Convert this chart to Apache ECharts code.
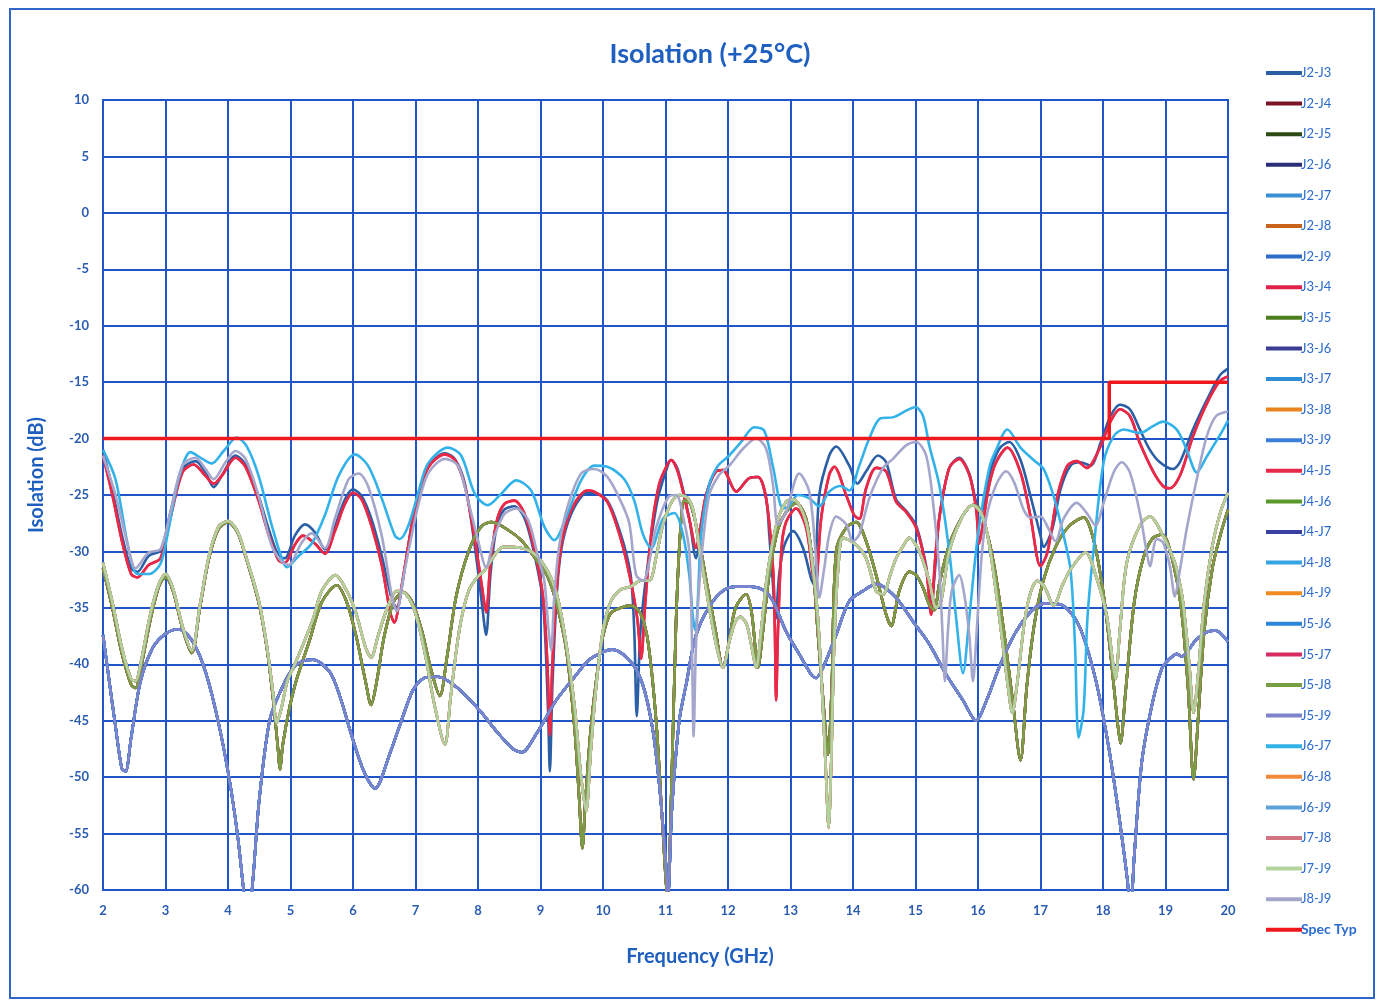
<!DOCTYPE html>
<html>
<head>
<meta charset="utf-8">
<script src="https://cdn.jsdelivr.net/npm/echarts@6/dist/echarts.min.js"></script>
<style>
html,body{margin:0;padding:0;background:#fff;}
#c{width:1382px;height:1002px;}
</style>
</head>
<body>
<div id="c"></div>
<script>
// ---- data (frequency GHz, isolation dB) ----
const xTicks = [2,3,4,5,6,7,8,9,10,11,12,13,14,15,16,17,18,19,20];
const yTicks = [10,5,0,-5,-10,-15,-20,-25,-30,-35,-40,-45,-50,-55,-60];

const upperBlue = [[2.0,-21.0],[2.15,-24.5],[2.3,-28.5],[2.45,-31.5],[2.55,-31.8],[2.73,-30.4],[2.92,-29.9],[3.08,-26.5],[3.27,-22.7],[3.48,-22.0],[3.64,-23.0],[3.77,-24.3],[3.9,-23.3],[4.12,-21.5],[4.28,-22.3],[4.49,-25.1],[4.65,-28.0],[4.81,-30.4],[4.91,-30.6],[5.07,-28.6],[5.23,-27.6],[5.39,-28.3],[5.55,-29.8],[5.71,-27.8],[5.87,-25.4],[6.0,-24.5],[6.14,-25.1],[6.3,-27.2],[6.46,-30.4],[6.62,-34.2],[6.7,-35.0],[6.83,-31.4],[6.99,-26.1],[7.2,-22.5],[7.47,-21.3],[7.63,-21.8],[7.79,-24.0],[7.95,-29.6],[8.06,-34.5],[8.13,-37.4],[8.2,-32.0],[8.3,-27.8],[8.42,-26.3],[8.58,-26.0],[8.74,-27.0],[8.9,-30.2],[9.04,-34.5],[9.12,-44.0],[9.15,-49.5],[9.19,-42.0],[9.27,-33.0],[9.36,-29.0],[9.54,-26.1],[9.75,-24.8],[9.86,-24.8],[10.07,-25.5],[10.28,-28.4],[10.44,-32.0],[10.5,-37.0],[10.54,-44.6],[10.6,-37.0],[10.71,-31.4],[10.87,-25.5],[11.03,-22.5],[11.09,-21.9],[11.2,-22.8],[11.38,-27.1],[11.49,-30.6],[11.56,-28.5],[11.65,-25.0],[11.81,-22.9],[11.92,-22.8],[12.13,-24.7],[12.34,-23.5],[12.48,-23.4],[12.61,-25.3],[12.66,-28.5],[12.72,-33.0],[12.76,-36.0],[12.82,-32.0],[12.9,-29.5],[13.04,-28.2],[13.2,-29.7],[13.33,-32.4],[13.38,-33.0],[13.46,-25.0],[13.62,-21.5],[13.73,-20.7],[13.94,-22.4],[14.07,-24.0],[14.21,-22.9],[14.4,-21.5],[14.53,-22.1],[14.69,-25.4],[14.85,-26.4],[15.01,-27.7],[15.17,-31.3],[15.25,-34.5],[15.33,-30.5],[15.38,-27.0],[15.54,-22.6],[15.7,-21.7],[15.86,-23.1],[15.97,-25.6],[16.05,-26.5],[16.18,-23.2],[16.34,-20.9],[16.5,-20.3],[16.68,-21.9],[16.84,-25.1],[17.0,-28.6],[17.05,-29.6],[17.19,-28.0],[17.32,-24.5],[17.48,-22.4],[17.64,-22.1],[17.8,-22.4],[17.96,-20.4],[18.12,-18.0],[18.27,-17.0],[18.43,-17.4],[18.59,-19.2],[18.75,-21.0],[18.91,-22.1],[19.12,-22.7],[19.23,-22.1],[19.44,-19.2],[19.66,-16.6],[19.87,-14.4],[20.0,-13.8]];

const upperRed = [[2.0,-21.5],[2.15,-25.0],[2.3,-29.0],[2.45,-32.0],[2.55,-32.3],[2.73,-31.2],[2.92,-30.6],[3.08,-27.0],[3.27,-23.0],[3.45,-22.3],[3.64,-23.3],[3.77,-24.0],[3.9,-23.3],[4.12,-21.7],[4.28,-22.5],[4.49,-25.5],[4.65,-28.5],[4.81,-30.8],[4.91,-31.0],[5.07,-29.4],[5.2,-28.6],[5.39,-29.3],[5.55,-30.2],[5.71,-28.2],[5.87,-25.8],[6.0,-24.8],[6.14,-25.4],[6.3,-27.8],[6.46,-31.2],[6.6,-35.5],[6.66,-36.3],[6.78,-33.0],[6.9,-29.0],[6.99,-26.3],[7.2,-22.6],[7.47,-21.4],[7.63,-21.9],[7.79,-24.2],[7.95,-29.0],[8.06,-33.0],[8.13,-35.4],[8.2,-31.0],[8.3,-27.3],[8.42,-25.8],[8.58,-25.5],[8.74,-26.6],[8.9,-29.8],[9.04,-34.0],[9.11,-40.0],[9.15,-46.3],[9.19,-40.0],[9.27,-32.5],[9.36,-28.6],[9.54,-25.8],[9.75,-24.6],[9.86,-24.7],[10.07,-25.6],[10.28,-28.8],[10.44,-32.5],[10.55,-36.0],[10.61,-39.5],[10.67,-35.0],[10.78,-28.0],[10.9,-24.0],[11.03,-22.3],[11.09,-21.9],[11.2,-23.0],[11.38,-27.1],[11.49,-29.7],[11.56,-27.8],[11.65,-25.0],[11.81,-22.9],[11.92,-22.8],[12.13,-24.7],[12.34,-23.5],[12.48,-23.4],[12.61,-25.3],[12.72,-31.5],[12.75,-37.0],[12.77,-43.2],[12.8,-37.0],[12.86,-29.5],[12.93,-27.4],[13.09,-26.2],[13.25,-27.9],[13.36,-32.1],[13.4,-33.0],[13.49,-27.1],[13.62,-23.2],[13.7,-22.5],[13.89,-25.0],[14.02,-26.8],[14.1,-27.1],[14.21,-24.4],[14.37,-22.6],[14.53,-22.9],[14.69,-25.6],[14.85,-26.5],[15.01,-27.9],[15.17,-31.5],[15.25,-35.6],[15.31,-31.0],[15.38,-27.1],[15.54,-22.6],[15.7,-21.8],[15.86,-23.2],[15.97,-26.2],[16.02,-29.3],[16.08,-27.5],[16.18,-24.1],[16.29,-22.1],[16.47,-20.8],[16.68,-23.0],[16.84,-26.9],[17.0,-31.3],[17.11,-30.1],[17.27,-25.1],[17.43,-22.4],[17.58,-22.0],[17.74,-22.6],[17.96,-20.7],[18.12,-18.5],[18.27,-17.4],[18.43,-18.0],[18.59,-20.4],[18.81,-23.0],[18.96,-24.2],[19.07,-24.4],[19.23,-23.3],[19.44,-19.8],[19.66,-16.9],[19.87,-14.9],[20.0,-14.5]];

const upperCyan = [[2.0,-21.0],[2.2,-23.6],[2.41,-29.8],[2.55,-32.0],[2.73,-32.0],[2.92,-31.1],[3.05,-28.0],[3.21,-23.6],[3.4,-21.2],[3.59,-21.8],[3.74,-22.2],[3.93,-21.1],[4.14,-19.9],[4.3,-20.7],[4.49,-23.3],[4.7,-27.7],[4.86,-30.6],[4.94,-31.4],[5.13,-30.4],[5.34,-29.3],[5.55,-26.8],[5.77,-23.3],[6.03,-21.4],[6.24,-22.4],[6.46,-25.3],[6.67,-28.6],[6.75,-28.9],[6.88,-27.8],[7.04,-24.9],[7.2,-22.2],[7.52,-20.8],[7.73,-21.5],[7.95,-24.9],[8.16,-25.9],[8.37,-24.9],[8.61,-23.7],[8.85,-24.6],[9.06,-27.8],[9.22,-29.0],[9.43,-26.7],[9.65,-23.7],[9.86,-22.4],[10.07,-22.5],[10.34,-23.6],[10.5,-25.5],[10.64,-28.5],[10.77,-29.7],[10.96,-27.1],[11.14,-26.6],[11.28,-28.5],[11.38,-32.1],[11.44,-35.9],[11.48,-37.0],[11.52,-34.0],[11.57,-28.5],[11.7,-24.1],[11.84,-22.4],[12.02,-21.5],[12.21,-20.3],[12.42,-19.0],[12.58,-19.3],[12.72,-22.5],[12.88,-26.2],[12.97,-26.0],[13.12,-25.0],[13.3,-25.3],[13.46,-26.0],[13.62,-24.7],[13.8,-24.2],[13.94,-24.6],[14.1,-22.4],[14.26,-20.0],[14.44,-18.2],[14.65,-18.1],[14.86,-17.5],[15.0,-17.2],[15.12,-18.0],[15.22,-20.6],[15.38,-24.1],[15.54,-30.0],[15.65,-35.9],[15.76,-40.8],[15.86,-35.9],[16.0,-28.5],[16.18,-22.6],[16.29,-21.0],[16.47,-19.2],[16.68,-20.8],[16.89,-21.9],[17.05,-22.7],[17.21,-25.1],[17.37,-28.6],[17.48,-31.6],[17.55,-38.0],[17.61,-46.5],[17.69,-44.0],[17.75,-36.0],[17.85,-29.8],[18.01,-22.1],[18.17,-19.8],[18.33,-19.2],[18.59,-19.5],[18.8,-18.9],[18.96,-18.5],[19.18,-19.2],[19.34,-21.0],[19.5,-23.0],[19.66,-21.6],[19.87,-19.7],[20.0,-18.4]];

const upperLavender = [[2.0,-21.5],[2.2,-25.0],[2.4,-29.5],[2.52,-31.5],[2.73,-30.1],[2.92,-29.8],[3.08,-26.5],[3.27,-22.4],[3.48,-21.7],[3.64,-22.7],[3.77,-23.6],[3.96,-22.1],[4.12,-21.1],[4.28,-21.8],[4.49,-25.1],[4.7,-29.5],[4.86,-30.9],[4.97,-31.2],[5.18,-29.2],[5.34,-28.4],[5.55,-29.7],[5.71,-27.1],[5.93,-23.6],[6.09,-23.1],[6.24,-24.2],[6.46,-28.6],[6.62,-33.9],[6.7,-35.3],[6.8,-32.5],[6.88,-30.2],[7.04,-26.0],[7.2,-23.1],[7.47,-21.8],[7.68,-22.4],[7.84,-25.5],[8.0,-29.0],[8.13,-31.4],[8.26,-28.7],[8.42,-26.7],[8.61,-26.2],[8.8,-27.2],[8.95,-30.2],[9.06,-32.6],[9.13,-37.0],[9.17,-38.8],[9.22,-34.0],[9.3,-29.5],[9.43,-26.1],[9.65,-23.1],[9.86,-22.7],[10.07,-23.4],[10.28,-25.5],[10.42,-27.5],[10.53,-32.1],[10.64,-32.6],[10.85,-27.9],[11.06,-25.1],[11.17,-25.0],[11.3,-27.4],[11.38,-30.0],[11.42,-37.0],[11.45,-46.4],[11.49,-38.0],[11.57,-30.9],[11.7,-25.0],[11.86,-23.2],[12.02,-22.4],[12.24,-20.9],[12.45,-20.0],[12.61,-20.9],[12.72,-24.1],[12.8,-27.6],[12.93,-26.5],[13.14,-23.1],[13.3,-24.7],[13.4,-30.0],[13.46,-34.1],[13.54,-31.5],[13.62,-28.5],[13.73,-26.9],[13.89,-27.6],[14.0,-29.1],[14.1,-28.5],[14.26,-25.3],[14.48,-22.6],[14.64,-21.8],[14.85,-20.6],[15.01,-20.3],[15.17,-21.5],[15.28,-25.6],[15.38,-31.5],[15.43,-37.0],[15.47,-41.5],[15.52,-37.0],[15.58,-33.5],[15.7,-32.1],[15.78,-33.8],[15.86,-37.4],[15.92,-41.5],[15.98,-37.0],[16.05,-31.0],[16.13,-27.1],[16.29,-24.1],[16.45,-22.9],[16.58,-23.9],[16.73,-26.3],[16.84,-27.0],[17.0,-26.9],[17.13,-28.0],[17.24,-29.1],[17.37,-27.1],[17.58,-25.7],[17.74,-26.6],[17.88,-27.7],[18.01,-25.7],[18.17,-23.0],[18.3,-22.1],[18.43,-23.0],[18.59,-26.6],[18.7,-30.1],[18.75,-31.3],[18.86,-28.9],[18.96,-29.2],[19.07,-31.3],[19.15,-34.0],[19.22,-32.0],[19.34,-28.0],[19.5,-23.6],[19.66,-19.8],[19.81,-18.0],[20.0,-17.6]];

const middleDark = [[2.0,-31.5],[2.15,-35.0],[2.3,-39.0],[2.45,-41.8],[2.52,-42.1],[2.6,-40.5],[2.76,-36.0],[2.9,-33.0],[3.0,-32.3],[3.12,-33.5],[3.28,-37.0],[3.42,-39.0],[3.55,-35.0],[3.7,-30.5],[3.85,-28.0],[4.0,-27.4],[4.15,-28.3],[4.28,-30.4],[4.49,-34.5],[4.62,-38.5],[4.72,-43.0],[4.8,-47.5],[4.83,-49.3],[4.88,-47.0],[4.99,-43.7],[5.1,-41.3],[5.31,-37.8],[5.5,-34.5],[5.74,-33.0],[5.9,-34.5],[6.05,-37.5],[6.2,-41.5],[6.29,-43.6],[6.38,-41.5],[6.5,-37.5],[6.65,-34.5],[6.8,-33.6],[6.95,-34.5],[7.1,-37.0],[7.25,-40.5],[7.39,-42.8],[7.5,-39.5],[7.65,-34.0],[7.85,-30.0],[8.05,-27.8],[8.22,-27.4],[8.48,-28.1],[8.69,-29.0],[8.9,-30.5],[9.11,-32.2],[9.27,-34.9],[9.42,-39.0],[9.55,-46.0],[9.62,-52.0],[9.67,-56.3],[9.72,-52.0],[9.8,-46.0],[9.89,-41.5],[10.0,-37.5],[10.12,-35.5],[10.28,-35.0],[10.45,-34.8],[10.6,-35.5],[10.72,-38.0],[10.85,-45.0],[10.95,-54.0],[11.03,-60.5],[11.1,-50.0],[11.17,-36.0],[11.24,-28.0],[11.3,-25.5],[11.4,-25.8],[11.52,-28.5],[11.65,-32.5],[11.8,-37.0],[11.92,-40.3],[12.0,-38.5],[12.12,-35.0],[12.29,-33.8],[12.38,-35.5],[12.48,-40.3],[12.56,-37.0],[12.66,-32.0],[12.8,-28.0],[12.93,-26.5],[13.09,-25.7],[13.25,-27.1],[13.36,-31.5],[13.44,-37.4],[13.52,-43.0],[13.6,-48.0],[13.66,-42.0],[13.73,-30.0],[13.89,-27.9],[14.05,-27.4],[14.21,-29.1],[14.37,-32.1],[14.53,-35.6],[14.61,-36.6],[14.74,-33.5],[14.9,-31.8],[15.01,-32.1],[15.12,-33.2],[15.22,-34.7],[15.3,-35.2],[15.38,-32.9],[15.54,-29.4],[15.76,-26.8],[15.92,-25.9],[16.02,-26.2],[16.12,-27.8],[16.25,-31.0],[16.4,-36.5],[16.55,-43.0],[16.68,-48.5],[16.78,-42.0],[16.9,-36.5],[17.05,-32.5],[17.25,-29.5],[17.45,-27.8],[17.69,-27.0],[17.85,-29.0],[18.0,-33.5],[18.12,-39.0],[18.22,-44.5],[18.28,-47.0],[18.36,-42.5],[18.5,-34.5],[18.65,-30.5],[18.8,-28.8],[18.95,-28.5],[19.1,-30.5],[19.25,-35.0],[19.36,-42.0],[19.45,-50.2],[19.52,-45.0],[19.62,-37.0],[19.75,-31.5],[19.88,-28.5],[20.0,-26.3]];

const middlePale = [[2.0,-31.0],[2.15,-34.5],[2.3,-38.5],[2.45,-41.3],[2.52,-41.5],[2.6,-40.0],[2.76,-35.5],[2.9,-32.8],[3.0,-32.0],[3.12,-33.3],[3.28,-36.8],[3.42,-38.8],[3.55,-34.8],[3.7,-30.3],[3.85,-27.8],[4.0,-27.3],[4.15,-28.2],[4.28,-30.3],[4.49,-34.3],[4.62,-38.3],[4.72,-42.5],[4.78,-45.2],[4.85,-44.0],[4.95,-41.5],[5.1,-39.6],[5.36,-36.0],[5.5,-33.5],[5.72,-32.1],[5.9,-33.5],[6.05,-35.5],[6.2,-38.5],[6.29,-39.4],[6.4,-37.5],[6.55,-35.0],[6.7,-33.5],[6.85,-33.8],[7.0,-35.5],[7.15,-39.0],[7.3,-43.5],[7.47,-47.1],[7.56,-43.0],[7.7,-37.0],[7.85,-33.5],[8.0,-32.2],[8.1,-31.7],[8.42,-29.6],[8.69,-29.7],[8.9,-30.2],[9.11,-31.7],[9.27,-34.0],[9.42,-38.5],[9.55,-44.0],[9.65,-50.0],[9.73,-53.0],[9.8,-48.0],[9.89,-42.0],[10.0,-37.0],[10.12,-34.5],[10.28,-33.4],[10.45,-33.1],[10.6,-32.6],[10.74,-32.6],[10.85,-30.5],[10.96,-27.6],[11.1,-25.6],[11.22,-25.0],[11.36,-25.3],[11.45,-26.5],[11.55,-30.0],[11.7,-35.0],[11.82,-38.5],[11.92,-40.3],[12.02,-38.0],[12.12,-36.2],[12.2,-35.8],[12.3,-36.5],[12.38,-38.5],[12.45,-40.3],[12.53,-37.0],[12.63,-32.0],[12.78,-27.5],[12.93,-25.6],[13.05,-25.4],[13.25,-27.4],[13.36,-31.5],[13.44,-36.0],[13.52,-44.0],[13.57,-50.0],[13.61,-54.5],[13.65,-49.0],[13.7,-38.0],[13.77,-31.0],[13.84,-28.8],[14.05,-29.4],[14.21,-30.6],[14.37,-33.5],[14.48,-33.8],[14.6,-32.0],[14.69,-30.6],[14.85,-29.1],[14.9,-28.8],[15.06,-30.0],[15.22,-32.6],[15.33,-35.0],[15.41,-34.4],[15.54,-30.0],[15.76,-26.8],[15.92,-25.9],[16.05,-26.6],[16.15,-28.5],[16.25,-32.0],[16.38,-37.5],[16.48,-42.0],[16.55,-44.3],[16.62,-42.0],[16.75,-36.0],[16.85,-33.5],[16.95,-32.6],[17.07,-33.2],[17.21,-34.8],[17.35,-33.0],[17.48,-31.6],[17.72,-30.1],[17.9,-32.4],[18.06,-35.7],[18.15,-39.5],[18.2,-41.3],[18.27,-37.0],[18.38,-31.0],[18.59,-27.7],[18.75,-26.9],[18.96,-28.6],[19.1,-30.3],[19.18,-31.6],[19.28,-34.5],[19.38,-40.0],[19.45,-44.3],[19.52,-41.0],[19.62,-34.5],[19.75,-29.5],[19.88,-26.5],[20.0,-24.8]];

const lowerGroup = [[2.0,-37.4],[2.1,-41.5],[2.2,-45.5],[2.3,-49.2],[2.36,-49.5],[2.45,-46.5],[2.6,-41.5],[2.8,-38.5],[3.0,-37.3],[3.21,-36.9],[3.4,-37.7],[3.6,-40.0],[3.8,-44.0],[4.0,-49.5],[4.15,-55.0],[4.25,-60.0],[4.32,-63.0],[4.4,-59.0],[4.5,-52.0],[4.67,-44.9],[4.88,-41.9],[5.05,-40.3],[5.2,-39.7],[5.36,-39.6],[5.63,-40.7],[5.8,-43.0],[5.95,-45.8],[6.16,-49.3],[6.35,-51.0],[6.59,-47.9],[6.8,-44.6],[6.96,-42.3],[7.15,-41.2],[7.36,-41.1],[7.65,-42.0],[8.03,-44.1],[8.29,-45.9],[8.56,-47.5],[8.7,-47.8],[8.93,-46.2],[9.25,-43.2],[9.52,-41.3],[9.78,-39.6],[10.05,-38.8],[10.15,-38.7],[10.42,-39.6],[10.63,-41.7],[10.79,-45.6],[10.9,-50.6],[11.0,-57.2],[11.04,-60.5],[11.1,-53.0],[11.22,-45.0],[11.33,-41.8],[11.49,-37.4],[11.76,-34.4],[12.02,-33.2],[12.29,-33.1],[12.56,-33.4],[12.72,-34.4],[12.93,-37.1],[13.14,-39.1],[13.33,-40.9],[13.41,-41.2],[13.52,-40.3],[13.73,-37.4],[13.94,-34.4],[14.16,-33.5],[14.37,-32.9],[14.48,-33.1],[14.69,-34.1],[14.96,-36.2],[15.22,-38.2],[15.49,-40.9],[15.76,-43.2],[15.97,-45.0],[16.13,-43.3],[16.35,-40.1],[16.6,-37.2],[16.85,-35.3],[17.07,-34.6],[17.32,-34.7],[17.61,-36.5],[17.88,-41.3],[18.09,-47.3],[18.25,-53.2],[18.39,-59.1],[18.44,-62.0],[18.5,-57.0],[18.62,-48.7],[18.78,-43.7],[18.94,-40.4],[19.05,-39.6],[19.18,-39.1],[19.26,-39.3],[19.48,-37.9],[19.64,-37.2],[19.8,-37.0],[20.0,-38.0]];

const specTyp = [[2.0,-20],[18.1,-20],[18.1,-15],[20.0,-15]];

// legend names, the data curve each one follows, and colours
const seriesNames = ['J2-J3','J2-J4','J2-J5','J2-J6','J2-J7','J2-J8','J2-J9','J3-J4','J3-J5','J3-J6','J3-J7','J3-J8','J3-J9','J4-J5','J4-J6','J4-J7','J4-J8','J4-J9','J5-J6','J5-J7','J5-J8','J5-J9','J6-J7','J6-J8','J6-J9','J7-J8','J7-J9','J8-J9'];
const seriesData = [upperBlue, middleDark, middleDark, lowerGroup, lowerGroup, middlePale, lowerGroup, upperRed, middleDark, lowerGroup, lowerGroup, middlePale, lowerGroup, upperRed, middleDark, lowerGroup, lowerGroup, middlePale, lowerGroup, middleDark, middleDark, lowerGroup, upperCyan, middlePale, middlePale, middlePale, middlePale, upperLavender];
const seriesColors = ['#2a5fa5','#7b1326','#2c4a14','#2b2e78','#3c8fd4','#c8631c','#2f6cc8','#e0224a','#4e7f1e','#3b3c94','#2e8fd6','#e8831e','#3a7fd8','#e82a48','#5b9a2a','#3a3fa2','#35a4e2','#f08a22','#2c88d6','#d62c62','#7a9e45','#7f83cc','#33b2ea','#f28c3c','#5ea2d8','#d27482','#b3d39c','#a5a6cc'];

const blue = '#1f55c8';
const txt = '#2a5cb0';
const nameBlue = '#1f5fbf';

const series = seriesNames.map((n, i) => ({
  name: n, type: 'line', data: seriesData[i], smooth: 0.3, showSymbol: false,
  lineStyle: {width: 2.6, color: seriesColors[i]}, itemStyle: {color: seriesColors[i]},
  clip: true
}));
series.push({
  name: 'Spec Typ', type: 'line', data: specTyp, smooth: false, showSymbol: false,
  lineStyle: {width: 3.5, color: '#f0181c'}, itemStyle: {color: '#f0181c'}, z: 5
});

const chart = echarts.init(document.getElementById('c'));
chart.setOption({
  animation: false,
  backgroundColor: '#fff',
  title: {
    text: 'Isolation (+25°C)', left: 705, top: 36, textAlign: 'center',
    textStyle: {fontFamily: 'Lato', fontWeight: 'bold', fontSize: 27, color: nameBlue}
  },
  legend: {
    orient: 'vertical', left: 1261, top: 61, icon: 'rect', itemWidth: 36, itemHeight: 4,
    itemGap: 16.6,
    data: seriesNames.concat(['Spec Typ']),
    formatter: n => n === 'Spec Typ' ? '{s|' + n + '}' : n,
    textStyle: {fontFamily: 'Lato', fontSize: 13, color: '#2a6ad0', lineHeight: 14, padding: [0,0,0,-6],
      rich: {s: {fontFamily: 'Lato', fontSize: 14, fontWeight: 'bold', color: '#2a6ad0', lineHeight: 14}}}
  },
  grid: {left: 103, right: 154, top: 100, bottom: 112},
  xAxis: {
    type: 'value', min: 2, max: 20, interval: 1,
    axisLine: {lineStyle: {color: blue, width: 2}},
    axisTick: {show: false},
    axisLabel: {color: txt, fontFamily: 'Lato', fontWeight: 'bold', fontSize: 13, margin: 14,
      formatter: v => xTicks.includes(v) ? String(v) : ''},
    splitLine: {show: true, lineStyle: {color: blue, width: 2}}
  },
  yAxis: {
    type: 'value', min: -60, max: 10, interval: 5,
    axisLine: {show: true, lineStyle: {color: blue, width: 2}},
    axisTick: {show: false},
    axisLabel: {color: txt, fontFamily: 'Lato', fontWeight: 'bold', fontSize: 13, margin: 14,
      formatter: v => yTicks.includes(v) ? String(v) : ''},
    splitLine: {show: true, lineStyle: {color: blue, width: 2}}
  },
  graphic: [{
    type: 'rect', silent: true, z: -1,
    shape: {x: 10, y: 9, width: 1364, height: 989},
    style: {fill: 'none', stroke: '#3064c8', lineWidth: 2}
  }, {
    type: 'rect', silent: true,
    shape: {x: 103, y: 100, width: 1125, height: 790},
    style: {fill: 'none', stroke: blue, lineWidth: 2}
  }, {
    type: 'text', silent: true, x: 700, y: 957,
    style: {text: 'Frequency (GHz)', fill: nameBlue, font: 'bold 20px Lato', textAlign: 'center', textVerticalAlign: 'middle'}
  }, {
    type: 'text', silent: true, x: 37, y: 475, rotation: Math.PI / 2,
    style: {text: 'Isolation (dB)', fill: nameBlue, font: 'bold 20px Lato', textAlign: 'center', textVerticalAlign: 'middle'}
  }],
  series: series
});
</script>
</body>
</html>
